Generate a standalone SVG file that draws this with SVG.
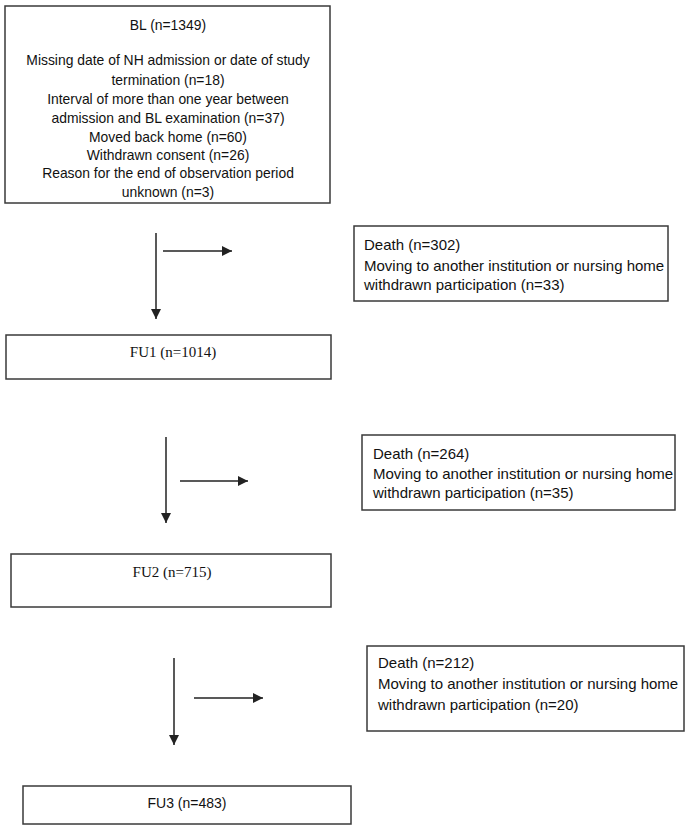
<svg xmlns="http://www.w3.org/2000/svg" width="685" height="825" viewBox="0 0 685 825">
<style>
.box{fill:#fff;stroke:#3a3a3a;stroke-width:1.5}
.sans{font-family:"Liberation Sans",Arial,sans-serif;fill:#111}
.serif{font-family:"Liberation Serif","Times New Roman",serif;fill:#111;font-size:15px}
.c{text-anchor:middle}
.bl{font-size:13.9px}
.d{font-size:15px}
.ln{stroke:#222;stroke-width:1.5;fill:none;marker-end:url(#ah)}
</style>
<defs>
<marker id="ah" markerUnits="userSpaceOnUse" markerWidth="10" markerHeight="10" refX="10" refY="5" orient="auto">
<path d="M0,0 L10,5 L0,10 Z" fill="#222"/>
</marker>
</defs>
<rect width="685" height="825" fill="#fff"/>
<g id="bl">
<rect class="box" x="5" y="6" width="325" height="197"/>
<text class="sans bl c" x="168" y="30">BL (n=1349)</text>
<text class="sans bl c" x="168" y="65">Missing date of NH admission or date of study</text>
<text class="sans bl c" x="168" y="85">termination (n=18)</text>
<text class="sans bl c" x="168" y="104">Interval of more than one year between</text>
<text class="sans bl c" x="168" y="123">admission and BL examination (n=37)</text>
<text class="sans bl c" x="168" y="142">Moved back home (n=60)</text>
<text class="sans bl c" x="168" y="160">Withdrawn consent (n=26)</text>
<text class="sans bl c" x="168" y="178">Reason for the end of observation period</text>
<text class="sans bl c" x="168" y="197">unknown (n=3)</text>
</g>
<g id="ex1">
<rect class="box" x="354" y="226" width="314" height="75"/>
<text class="sans d" x="364" y="250">Death (n=302)</text>
<text class="sans d" x="364" y="271">Moving to another institution or nursing home</text>
<text class="sans d" x="364" y="290">withdrawn participation (n=33)</text>
</g>
<g id="fu1">
<rect class="box" x="6" y="335" width="325" height="44"/>
<text class="serif c" x="173" y="357">FU1 (n=1014)</text>
</g>
<g id="ex2">
<rect class="box" x="362" y="435" width="313" height="75"/>
<text class="sans d" x="373" y="459">Death (n=264)</text>
<text class="sans d" x="373" y="479">Moving to another institution or nursing home</text>
<text class="sans d" x="373" y="498">withdrawn participation (n=35)</text>
</g>
<g id="fu2">
<rect class="box" x="11" y="554" width="320" height="53"/>
<text class="serif c" x="172" y="577">FU2 (n=715)</text>
</g>
<g id="ex3">
<rect class="box" x="367" y="646" width="317" height="85"/>
<text class="sans d" x="378" y="668">Death (n=212)</text>
<text class="sans d" x="378" y="689">Moving to another institution or nursing home</text>
<text class="sans d" x="378" y="710">withdrawn participation (n=20)</text>
</g>
<g id="fu3">
<rect class="box" x="23" y="786" width="328" height="38"/>
<text class="sans c" x="187" y="808" font-size="14">FU3 (n=483)</text>
</g>
<g id="connectors">
<line class="ln" x1="156" y1="233" x2="156" y2="319"/>
<line class="ln" x1="163" y1="251" x2="232" y2="251"/>
<line class="ln" x1="166" y1="437" x2="166" y2="523"/>
<line class="ln" x1="180" y1="481" x2="248" y2="481"/>
<line class="ln" x1="174" y1="658" x2="174" y2="745"/>
<line class="ln" x1="194" y1="698" x2="263" y2="698"/>
</g>
</svg>
